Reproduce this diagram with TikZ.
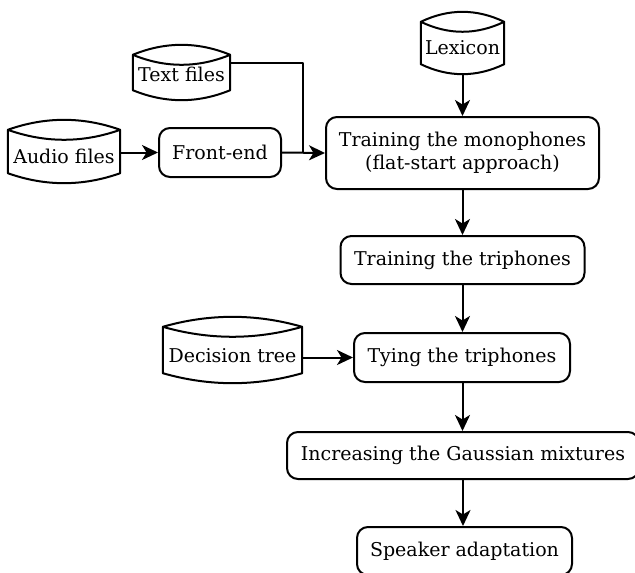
\documentclass[tikz,border=0pt]{standalone}
\usepackage{fontspec}
\setmainfont{DejaVu Serif}
\usetikzlibrary{arrows.meta,calc}
\tikzset{
  line/.style={line width=2pt, line join=round},
  arr/.style={line, -{Stealth[length=16pt,width=15pt,inset=4.5pt]}},
  proc/.style={draw, line width=2pt, rounded corners=11pt, align=center, inner sep=0pt, font=\fontsize{19}{23}\selectfont},
  store/.style={inner sep=0pt, align=center, font=\fontsize{19}{23}\selectfont},
}
\newcommand\storeshape[1]{%
  \draw[line] let \p1=(#1.north west), \p2=(#1.south east), \n1={(\x2-\x1)/3} in
  (\x1,\y1-10pt) .. controls (\x1+\n1,\y1+3.3pt) and (\x2-\n1,\y1+3.3pt) .. (\x2,\y1-10pt)
  -- (\x2,\y2+10pt) .. controls (\x2-\n1,\y2-3.3pt) and (\x1+\n1,\y2-3.3pt) .. (\x1,\y2+10pt) -- cycle
  (\x1,\y1-10pt) .. controls (\x1+\n1,\y1-23.3pt) and (\x2-\n1,\y1-23.3pt) .. (\x2,\y1-10pt);}
\newcommand\lowered[2]{\raisebox{-#1}[\height][\depth]{#2}}
\begin{document}
\begin{tikzpicture}[x=1pt,y=-1pt]
\useasboundingbox (0,0) rectangle (635,573);
% storage shapes
\node[store, minimum width=83pt, minimum height=62pt] (lex) at (462.5,43) {\lowered{5pt}{Lexicon}};
\node[store, minimum width=97pt, minimum height=55pt] (txt) at (181.5,72.5) {\lowered{2pt}{Text files}};
\node[store, minimum width=112pt, minimum height=63pt] (aud) at (64,151.5) {\lowered{5pt}{Audio files}};
\node[store, minimum width=139pt, minimum height=66pt] (dec) at (232.5,350) {\lowered{6pt}{Decision tree}};
\storeshape{lex}
\storeshape{txt}
\storeshape{aud}
\storeshape{dec}
% process boxes
\node[proc, minimum width=122pt, minimum height=49pt] (fe) at (220,152.5) {Front-end};
\node[proc, minimum width=273pt, minimum height=72pt] (t1) at (462.5,153) {Training the monophones\\(flat-start approach)};
\node[proc, minimum width=244pt, minimum height=48pt] (t2) at (462.5,260) {Training the triphones};
\node[proc, minimum width=216pt, minimum height=49pt] (tie) at (462,357.5) {Tying the triphones};
\node[proc, minimum width=352pt, minimum height=47pt] (inc) at (463,455.5) {Increasing the Gaussian mixtures};
\node[proc, minimum width=215pt, minimum height=48pt] (spk) at (464.5,551) {Speaker adaptation};
% connectors
\coordinate (txtout) at ([yshift=9.5pt]txt.east);
\coordinate (join) at ([xshift=21pt]fe.east);
\draw[line] (txtout) -| (join);
\draw[arr] (aud.east |- fe.west) -- (fe.west);
\draw[arr] (fe.east) -- (t1.west);
\draw[arr] (lex.south) -- (lex.south |- t1.north);
\draw[arr] (t1.south) -- (t1.south |- t2.north);
\draw[arr] (t2.south) -- (t2.south |- tie.north);
\draw[arr] (t2.south |- tie.south) -- (t2.south |- inc.north);
\draw[arr] (inc.south) -- (inc.south |- spk.north);
\draw[arr] (dec.east |- tie.west) -- (tie.west);
\end{tikzpicture}
\end{document}
